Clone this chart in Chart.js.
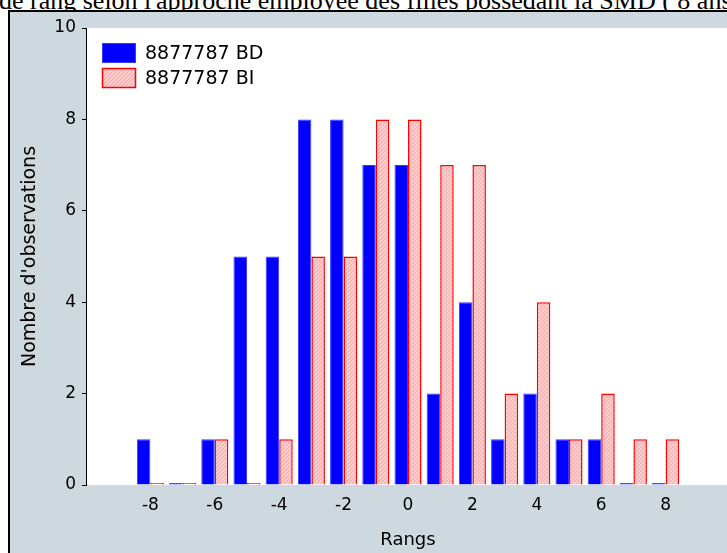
<!DOCTYPE html>
<html>
<head>
<meta charset="utf-8">
<script src="https://cdn.jsdelivr.net/npm/chart.js"></script>
<style>
  html, body { margin: 0; padding: 0; width: 727px; height: 553px; overflow: hidden; background: #fff; }
  #title { position: absolute; left: -1px; top: -12px; font: 26px "Liberation Serif", "Times New Roman", serif; line-height: 26px; white-space: nowrap; color: #000; }
  #frame { position: absolute; left: 8px; top: 10px; width: 800px; height: 600px; border: 2px solid #000; background: #cdd8df; }
  #wrap { position: absolute; left: 0; top: 0; width: 740px; height: 553px; }
</style>
</head>
<body>
<div id="title">de rang selon l'approche employée des filles possédant la SMD ( 8 ans )</div>
<div id="frame"></div>
<div id="wrap"><canvas id="myChart" width="740" height="553"></canvas></div>
<script>
// ranks on the x axis and the number of observations for each series
const ranks = [-8, -7, -6, -5, -4, -3, -2, -1, 0, 1, 2, 3, 4, 5, 6, 7, 8];
const countsBD = [1, 0, 1, 5, 5, 8, 8, 7, 7, 2, 4, 1, 2, 1, 1, 0, 0];
const countsBI = [0, 0, 1, 0, 1, 5, 5, 8, 8, 7, 7, 2, 4, 1, 2, 1, 1];
const seriesNames = ['8877787 BD', '8877787 BI'];
const xTickLabels = [-8, -6, -4, -2, 0, 2, 4, 6, 8];

Chart.defaults.font.family = '"DejaVu Sans", sans-serif';
Chart.defaults.font.size = 17;
Chart.defaults.color = '#000';

// light pink hatch used by the BI bars
function makeHatch() {
  const p = document.createElement('canvas');
  p.width = 4; p.height = 4;
  const g = p.getContext('2d');
  g.fillStyle = '#ffc9c9';
  g.fillRect(0, 0, 4, 4);
  g.fillStyle = '#efaaaa';
  for (let i = 0; i < 4; i++) g.fillRect(i, 3 - i, 1, 1);
  return g.createPattern(p, 'repeat');
}
const hatch = makeHatch();

// white plot area on the grey panel
const plotBg = {
  id: 'plotBg',
  beforeDraw(chart) {
    const { ctx, chartArea: a } = chart;
    ctx.save();
    ctx.fillStyle = '#fff';
    ctx.fillRect(a.left, a.top, a.right - a.left, a.bottom - a.top);
    ctx.restore();
  }
};

// legend sits inside the plot, top left
const insideLegend = {
  id: 'insideLegend',
  afterDraw(chart) {
    const { ctx, chartArea: a } = chart;
    ctx.save();
    chart.data.datasets.forEach((ds, i) => {
      const x = a.left + 16, y = a.top + 15 + i * 25;
      ctx.fillStyle = ds.backgroundColor;
      ctx.fillRect(x, y, 34, 20);
      ctx.strokeStyle = ds.borderColor;
      ctx.lineWidth = ds.borderWidth;
      ctx.strokeRect(x + 0.5, y + 0.5, 33, 19);
      ctx.fillStyle = '#000';
      ctx.font = '19px "DejaVu Sans", sans-serif';
      ctx.textBaseline = 'middle';
      ctx.fillText(ds.label, x + 43, y + 11);
    });
    ctx.restore();
  }
};

const ctx = document.getElementById('myChart').getContext('2d');
new Chart(ctx, {
  type: 'bar',
  data: {
    datasets: [{
      label: seriesNames[0],
      data: ranks.map((r, i) => ({ x: r, y: countsBD[i] })),
      backgroundColor: '#0000ff',
      borderColor: '#3a3aff',
      borderWidth: 1,
      minBarLength: 2
    }, {
      label: seriesNames[1],
      data: ranks.map((r, i) => ({ x: r, y: countsBI[i] })),
      backgroundColor: hatch,
      borderColor: '#ff0000',
      borderWidth: 1.5,
      minBarLength: 2
    }]
  },
  options: {
    responsive: false,
    animation: false,
    layout: { padding: { top: 28, right: 10, left: 0, bottom: 0 } },
    categoryPercentage: 0.84,
    barPercentage: 1,
    plugins: {
      legend: { display: false },
      tooltip: { enabled: false }
    },
    scales: {
      x: {
        type: 'linear',
        min: -10,
        max: 10,
        offset: false,
        grid: { display: false, drawTicks: false },
        border: { display: false },
        ticks: {
          stepSize: 2,
          autoSkip: false,
          maxRotation: 0,
          padding: 10,
          callback: v => xTickLabels.includes(v) ? String(v) : ''
        },
        title: { display: true, text: 'Rangs', font: { size: 18 }, padding: { top: 0, bottom: 2 } },
        afterFit: s => { s.height = 68; }
      },
      y: {
        type: 'linear',
        min: 0,
        max: 10,
        grid: { drawOnChartArea: false, color: '#000', tickLength: 4 },
        border: { display: true, color: '#000', width: 1 },
        ticks: { stepSize: 2, padding: 6 },
        title: { display: true, text: "Nombre d'observations", font: { size: 19 }, padding: { top: 19, bottom: 0 } },
        afterFit: s => { s.width = 86; }
      }
    }
  },
  plugins: [plotBg, insideLegend]
});
</script>
</body>
</html>
